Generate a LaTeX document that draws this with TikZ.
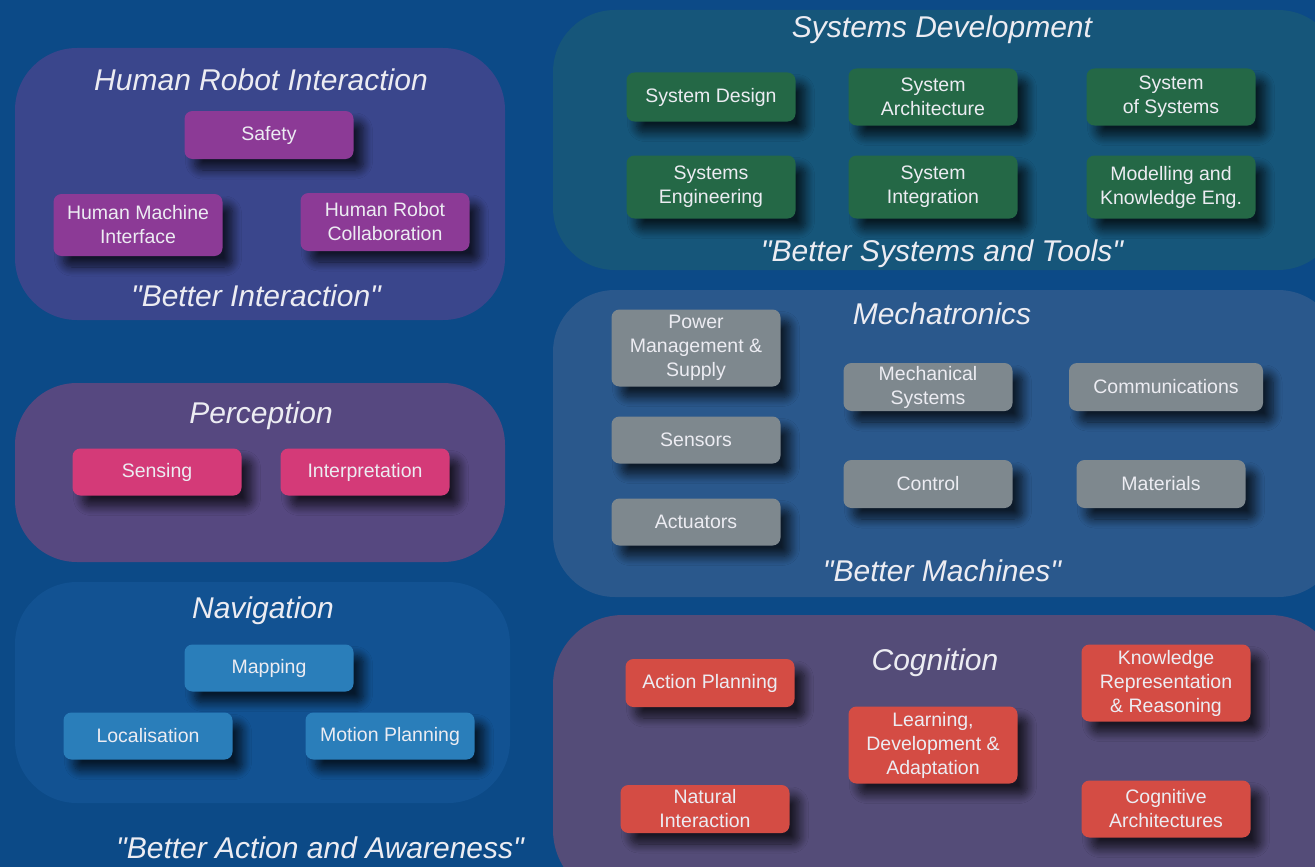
\documentclass[tikz,border=0pt]{standalone}
\usepackage{fontspec}
\setmainfont{Liberation Sans}[Ligatures=TeXOff]
\usetikzlibrary{shadows.blur}
\definecolor{bgc}{RGB}{12,74,135}
\definecolor{hrip}{RGB}{58,70,140}
\definecolor{sysp}{RGB}{22,86,122}
\definecolor{mecp}{RGB}{42,88,140}
\definecolor{perp}{RGB}{86,72,128}
\definecolor{navp}{RGB}{18,82,146}
\definecolor{cogp}{RGB}{84,76,120}
\definecolor{hrib}{RGB}{140,58,150}
\definecolor{sysb}{RGB}{36,104,70}
\definecolor{mecb}{RGB}{126,136,142}
\definecolor{perb}{RGB}{212,58,120}
\definecolor{navb}{RGB}{42,126,186}
\definecolor{cogb}{RGB}{212,76,68}
\definecolor{txt}{RGB}{236,236,242}
\begin{document}
\begin{tikzpicture}[x=1pt,y=-1pt,
  panel/.style={rounded corners=62pt},
  ptitle/.style={text=txt, font=\fontsize{30}{34}\selectfont\itshape, inner sep=0},
  box/.style={rounded corners=8pt, minimum width=169pt, inner sep=0, align=center,
    text=txt, font=\fontsize{19.5}{24}\selectfont,
    blur shadow={shadow xshift=10pt, shadow yshift=-11pt, shadow blur radius=9pt,
      shadow opacity=70, shadow blur steps=10}},
  hri/.style={box, fill=hrib},
  sys/.style={box, fill=sysb},
  mec/.style={box, fill=mecb},
  per/.style={box, fill=perb},
  nav/.style={box, fill=navb},
  cog/.style={box, fill=cogb}]
\useasboundingbox (0,0) rectangle (1315,867);
\fill[bgc] (0,0) rectangle (1315,867);
% panels
\fill[hrip, panel] (15,48) rectangle (505,320);
\fill[sysp, panel] (553,10) rectangle (1340,270);
\fill[mecp, panel] (553,290) rectangle (1340,597);
\fill[cogp, panel, rounded corners=70pt] (553,615) rectangle (1340,900);
\fill[perp, panel] (15,383) rectangle (505,562);
\fill[navp, panel] (15,582) rectangle (510,803);
% Human Robot Interaction
\node[ptitle] (hriT) at (261,80) {Human Robot Interaction};
\node[hri, minimum height=48pt] (safety) at (269,135) {Safety};
\node[hri, minimum height=62pt] (hmi) at (138,225) {Human Machine\\Interface};
\node[hri, minimum height=58pt] (hrc) at (385,222) {Human Robot\\Collaboration};
\node[ptitle] (hriQ) at (256,296) {"Better Interaction"};
% Systems Development
\node[ptitle] (sysT) at (942,30) {Systems Development};
\node[sys, minimum height=49pt] (sdes) at (711,97) {System Design};
\node[sys, minimum height=57pt] (sarch) at (933,97) {System\\Architecture};
\node[sys, minimum height=57pt] (sos) at (1171,97) {System\\of Systems};
\node[sys, minimum height=63pt] (seng) at (711,187) {Systems\\Engineering};
\node[sys, minimum height=63pt] (sint) at (933,187) {System\\Integration};
\node[sys, minimum height=63pt] (smod) at (1171,187) {Modelling and\\Knowledge Eng.};
\node[ptitle] (sysQ) at (942,254) {"Better Systems and Tools"};
% Mechatronics
\node[ptitle] (mecT) at (942,314) {Mechatronics};
\node[mec, minimum height=77pt] (power) at (696,348) {Power\\Management \&\\Supply};
\node[mec, minimum height=47pt] (sensors) at (696,440) {Sensors};
\node[mec, minimum height=47pt] (actuators) at (696,522) {Actuators};
\node[mec, minimum height=48pt] (mechsys) at (928,387) {Mechanical\\Systems};
\node[mec, minimum height=48pt, minimum width=194pt] (comms) at (1166,387) {Communications};
\node[mec, minimum height=48pt] (control) at (928,484) {Control};
\node[mec, minimum height=48pt] (materials) at (1161,484) {Materials};
\node[ptitle] (mecQ) at (942,571) {"Better Machines"};
% Cognition
\node[ptitle] (cogT) at (935,663) {Cognition};
\node[cog, minimum height=48pt] (aplan) at (710,683) {Action Planning};
\node[cog, minimum height=77pt] (krr) at (1166,683) {Knowledge\\Representation\\\& Reasoning};
\node[cog, minimum height=77pt] (learn) at (933,745) {Learning,\\Development \&\\Adaptation};
\node[cog, minimum height=48pt] (natint) at (705,809) {Natural\\Interaction};
\node[cog, minimum height=57pt] (cogarch) at (1166,809) {Cognitive\\Architectures};
% Perception
\node[ptitle] (perT) at (261,416) {Perception};
\node[per, minimum height=47pt] (sensing) at (157,472) {Sensing};
\node[per, minimum height=47pt] (interp) at (365,472) {Interpretation};
% Navigation
\node[ptitle] (navT) at (263,611) {Navigation};
\node[nav, minimum height=47pt] (mapping) at (269,668) {Mapping};
\node[nav, minimum height=47pt] (local) at (148,736) {Localisation};
\node[nav, minimum height=47pt] (mplan) at (390,736) {Motion Planning};
\node[ptitle] (navQ) at (320,848) {"Better Action and Awareness"};
\end{tikzpicture}
\end{document}
